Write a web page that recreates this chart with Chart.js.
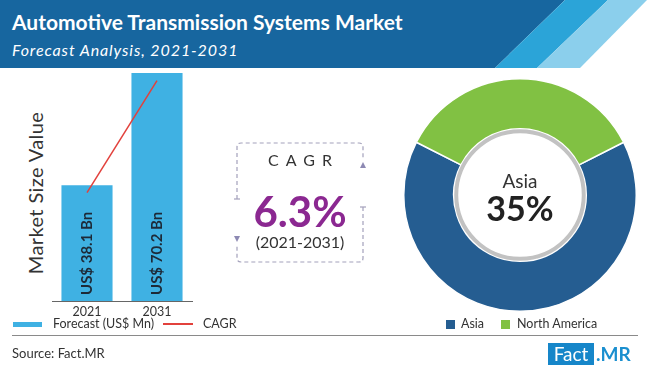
<!DOCTYPE html>
<html>
<head>
<meta charset="utf-8">
<script src="https://cdn.jsdelivr.net/npm/chart.js@4.4.0/dist/chart.umd.min.js"></script>
<style>
  body { margin: 0; width: 650px; height: 372px; position: relative; overflow: hidden; background: #fff; font-family: Lato, sans-serif; color: #333; }
  .abs { position: absolute; white-space: nowrap; }
  #title { left: 12px; top: 9px; font-size: 21px; font-weight: bold; color: #fff; }
  #subtitle { left: 12px; top: 40px; font-size: 16px; font-style: italic; color: #fff; letter-spacing: 0.9px; }
  #ytitle { left: 35px; top: 193px; font-size: 20px; color: #333; letter-spacing: 0.4px; transform: translate(-50%, -50%) rotate(-90deg); }
  .leg { font-size: 12.5px; line-height: 16px; top: 316px; color: #333; }
  #cagrT { left: 240px; width: 120px; top: 150px; text-align: center; font-size: 16px; letter-spacing: 7px; text-indent: 7px; }
  #cagrV { left: 240px; width: 120px; top: 186px; text-align: center; font-size: 42px; font-weight: bold; color: #8b2891; }
  #cagrP { left: 240px; width: 120px; top: 232px; text-align: center; font-size: 16px; }
</style>
</head>
<body>
<svg class="abs" style="left:0;top:0" width="650" height="68">
  <polygon points="0,0 565,0 495,68 0,68" fill="#17669f"/>
  <polygon points="565,0 608,0 537,68 495,68" fill="#2ba4d8"/>
  <polygon points="608,0 647,0 580,68 537,68" fill="#8bcfec"/>
</svg>
<div id="title" class="abs">Automotive Transmission Systems Market</div>
<div id="subtitle" class="abs">Forecast Analysis, 2021-2031</div>

<div id="ytitle" class="abs">Market Size Value</div>
<canvas id="bars" class="abs" style="left:0;top:70px" width="200" height="252"></canvas>

<svg class="abs" style="left:0;top:0" width="650" height="372">
  <g stroke="#a3a1bb" stroke-width="1.2" stroke-dasharray="4,3" fill="none">
    <path d="M237,199 L237,147 Q237,143 241,143 L359,143 Q363,143 363,147 L363,160"/>
    <path d="M363,207 L363,258 Q363,262 359,262 L241,262 Q237,262 237,258 L237,246"/>
  </g>
  <g stroke="#a3a1bb" stroke-width="1.2">
    <line x1="234" y1="199" x2="240" y2="199"/>
    <line x1="360" y1="207" x2="366" y2="207"/>
  </g>
  <polygon points="234,236 240,236 237,242" fill="#8d89b3"/>
  <polygon points="360,168 366,168 363,162" fill="#8d89b3"/>
</svg>
<div id="cagrT" class="abs">CAGR</div>
<div id="cagrV" class="abs">6.3%</div>
<div id="cagrP" class="abs">(2021-2031)</div>

<canvas id="donut" class="abs" style="left:402px;top:77px" width="236" height="236"></canvas>

<div class="abs" style="left:13px;top:322px;width:29px;height:5px;background:#3fb1e3"></div>
<div class="abs leg" style="left:53px">Forecast (US$ Mn)</div>
<div class="abs" style="left:163px;top:323px;width:30px;height:2px;background:#e2413c"></div>
<div class="abs leg" style="left:203px">CAGR</div>
<div class="abs" style="left:446px;top:320px;width:9px;height:9px;background:#255d91"></div>
<div class="abs leg" style="left:461px">Asia</div>
<div class="abs" style="left:501px;top:320px;width:9px;height:9px;background:#81c143"></div>
<div class="abs leg" style="left:517px">North America</div>

<div class="abs" style="left:12px;top:335px;width:626px;height:1px;background:#8a8a8a"></div>
<div class="abs" style="left:12px;top:345px;font-size:13px;color:#333">Source: Fact.MR</div>
<div class="abs" style="left:548px;top:343px;width:46px;height:22px;background:#1686c9;color:#fff;font-size:19px;line-height:22px;text-align:center">Fact</div>
<div class="abs" style="left:596px;top:343px;font-size:19px;line-height:22px;font-weight:bold;color:#1a8fcf">.MR</div>

<script>
var years = ['2021', '2031'];
var marketSize = [38.1, 70.2];
var barLabels = ['US$ 38.1 Bn', 'US$ 70.2 Bn'];
var cagrLine = [36, 68];

var regions = ['Asia', 'North America'];
var regionShare = [65, 35];
var centerName = 'Asia';
var centerValue = '35%';

var barText = {
  id: 'barText',
  afterDatasetsDraw: function(chart) {
    var ctx = chart.ctx;
    var meta = chart.getDatasetMeta(0);
    meta.data.forEach(function(bar, i) {
      ctx.save();
      ctx.translate(bar.x, chart.chartArea.bottom - 6);
      ctx.rotate(-Math.PI / 2);
      ctx.font = 'bold 15px Lato';
      ctx.fillStyle = '#1d2a38';
      ctx.textAlign = 'left';
      ctx.textBaseline = 'middle';
      ctx.fillText(barLabels[i], 0, 0);
      ctx.restore();
    });
  }
};

new Chart(document.getElementById('bars'), {
  type: 'bar',
  data: {
    labels: years,
    datasets: [{
      type: 'line',
      label: 'CAGR',
      data: cagrLine,
      borderColor: '#e2413c',
      borderWidth: 1.5,
      pointRadius: 0,
      order: 0
    }, {
      label: 'Forecast (US$ Mn)',
      data: marketSize,
      backgroundColor: '#3fb1e3',
      categoryPercentage: 1,
      barPercentage: 0.73,
      order: 1
    }]
  },
  options: {
    responsive: false,
    animation: false,
    layout: { padding: { left: 52, right: 8, top: 3, bottom: 0 } },
    plugins: { legend: { display: false }, tooltip: { enabled: false } },
    scales: {
      x: {
        grid: { display: false, drawTicks: false },
        border: { color: '#666' },
        ticks: { color: '#333', font: { family: 'Lato', size: 12.5 }, padding: 3 }
      },
      y: { display: false, min: 5, max: 70.2 }
    }
  },
  plugins: [barText]
});

// ring and text in the hole of the doughnut
var centerText = {
  id: 'centerText',
  afterDatasetsDraw: function(chart) {
    var ctx = chart.ctx;
    var arc = chart.getDatasetMeta(0).data[0];
    var x = arc.x, y = arc.y, r = arc.innerRadius;
    ctx.save();
    ctx.beginPath();
    ctx.arc(x, y, r - 2.5, 0, Math.PI * 2);
    ctx.fillStyle = '#fff';
    ctx.fill();
    ctx.lineWidth = 4;
    ctx.strokeStyle = '#c2c2c2';
    ctx.stroke();
    ctx.fillStyle = '#333';
    ctx.textAlign = 'center';
    ctx.textBaseline = 'middle';
    ctx.font = '19px Lato';
    ctx.fillText(centerName, x, y - 13);
    ctx.fillStyle = '#222';
    ctx.font = 'bold 34px Lato';
    ctx.fillText(centerValue, x, y + 15);
    ctx.restore();
  }
};

new Chart(document.getElementById('donut'), {
  type: 'doughnut',
  data: {
    labels: regions,
    datasets: [{
      data: regionShare,
      backgroundColor: ['#255d91', '#81c143'],
      borderColor: '#fff',
      borderWidth: 1.5
    }]
  },
  options: {
    responsive: false,
    animation: false,
    rotation: 63,
    cutout: '57%',
    layout: { padding: 1 },
    plugins: { legend: { display: false }, tooltip: { enabled: false } }
  },
  plugins: [centerText]
});
</script>
</body>
</html>
